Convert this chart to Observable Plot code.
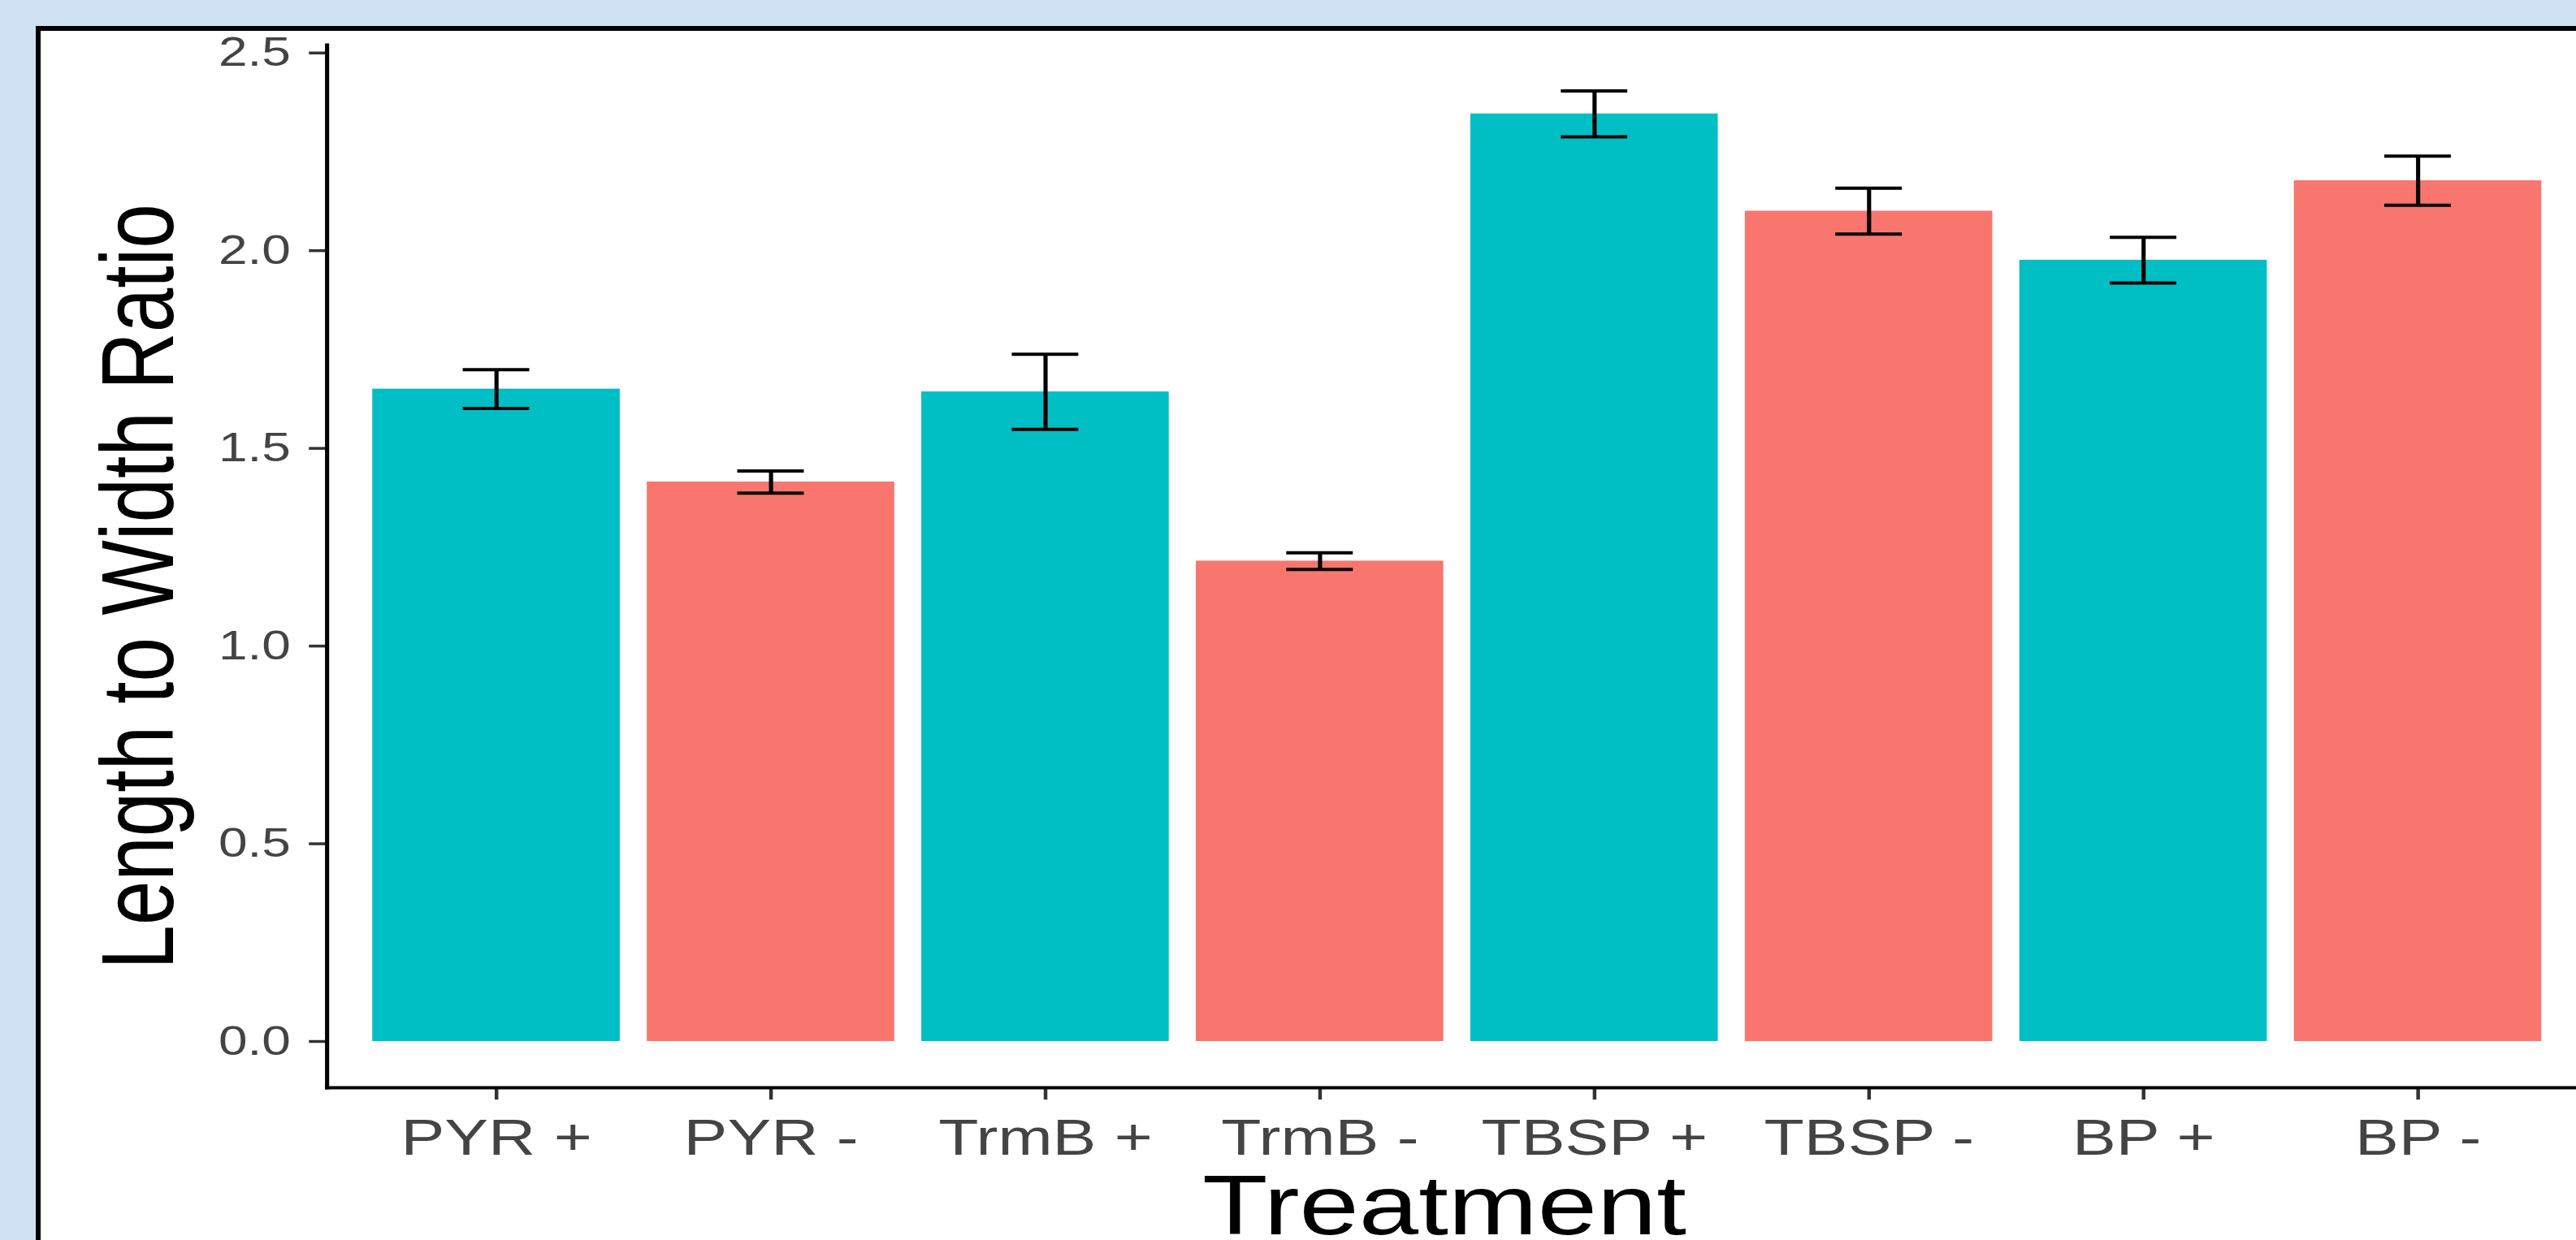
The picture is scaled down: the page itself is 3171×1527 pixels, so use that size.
<!DOCTYPE html>
<html><head><meta charset="utf-8">
<script src="https://cdn.jsdelivr.net/npm/d3@7"></script>
<script src="https://cdn.jsdelivr.net/npm/@observablehq/plot@0.6"></script>
<style>
html,body{margin:0;padding:0;width:3171px;height:1527px;overflow:hidden;background:#cfe2f3;}
#panel{position:absolute;left:44px;top:32px;width:3300px;height:1700px;background:#fff;border-left:6px solid #000;border-top:6px solid #000;}
#chart{position:absolute;left:0;top:0;transform:scaleX(1.28);transform-origin:0 0;}
</style></head><body>
<div id="panel"></div><div id="chart"></div>
<script>
const treatments = ["PYR +","PYR -","TrmB +","TrmB -","TBSP +","TBSP -","BP +","BP -"];
const means = [1.65, 1.415, 1.643, 1.215, 2.346, 2.10, 1.976, 2.177];
const ses = [0.049, 0.028, 0.095, 0.021, 0.058, 0.058, 0.058, 0.062];
const groups = ["+","-","+","-","+","-","+","-"];
const yTicks = [0, 0.5, 1.0, 1.5, 2.0, 2.5];
const xTitle = "Treatment";
const yTitle = "Length to Width Ratio";

const data = treatments.map((t, i) => ({t, m: means[i], se: ses[i], g: groups[i]}));
const S = 1.28;
const font = "'Liberation Sans', Arial, Helvetica, sans-serif";

const chart = Plot.plot({
  width: Math.round(3183 / S),
  height: 1527,
  marginLeft: 402 / S,
  marginRight: 0,
  marginTop: 55,
  marginBottom: 188,
  style: {background: "transparent", fontFamily: font, overflow: "visible"},
  x: {domain: treatments, paddingInner: 0.1, paddingOuter: 0.15, axis: null},
  y: {domain: [-0.117, 2.52], axis: null},
  color: {domain: ["+", "-"], range: ["#00BFC4", "#F8766D"]},
  marks: [
    Plot.barY(data, {x: "t", y: "m", fill: "g"}),
    Plot.ruleX(data, {x: "t", y1: d => d.m - d.se, y2: d => d.m + d.se, stroke: "#000", strokeWidth: 4}),
    Plot.tickY(data, {x: "t", y: d => d.m + d.se, stroke: "#000", strokeWidth: 4, insetLeft: 87, insetRight: 87}),
    Plot.tickY(data, {x: "t", y: d => d.m - d.se, stroke: "#000", strokeWidth: 4, insetLeft: 87, insetRight: 87}),
    Plot.axisY({ticks: yTicks, tickFormat: d3.format(".1f"), tickSize: 17, tickPadding: 18, fontSize: 50, fill: "#444", stroke: "#333", strokeWidth: 3.5, label: null}),
    Plot.axisX({tickSize: 15, tickPadding: 23, fontSize: 63, fill: "#444", stroke: "#333", strokeWidth: 3.5, label: null}),
    Plot.frame({anchor: "left", stroke: "#000", strokeWidth: 4}),
    Plot.frame({anchor: "bottom", stroke: "#000", strokeWidth: 4}),
    Plot.text([yTitle], {frameAnchor: "left", rotate: -90, dx: -218, dy: 25, textAnchor: "middle", lineAnchor: "top", fontSize: 98, fill: "#000"}),
    Plot.text([xTitle], {frameAnchor: "bottom", textAnchor: "middle", lineAnchor: "top", dx: -12, dy: 107, fontSize: 103, fill: "#000"})
  ]
});
document.getElementById("chart").appendChild(chart);
</script>
</body></html>
